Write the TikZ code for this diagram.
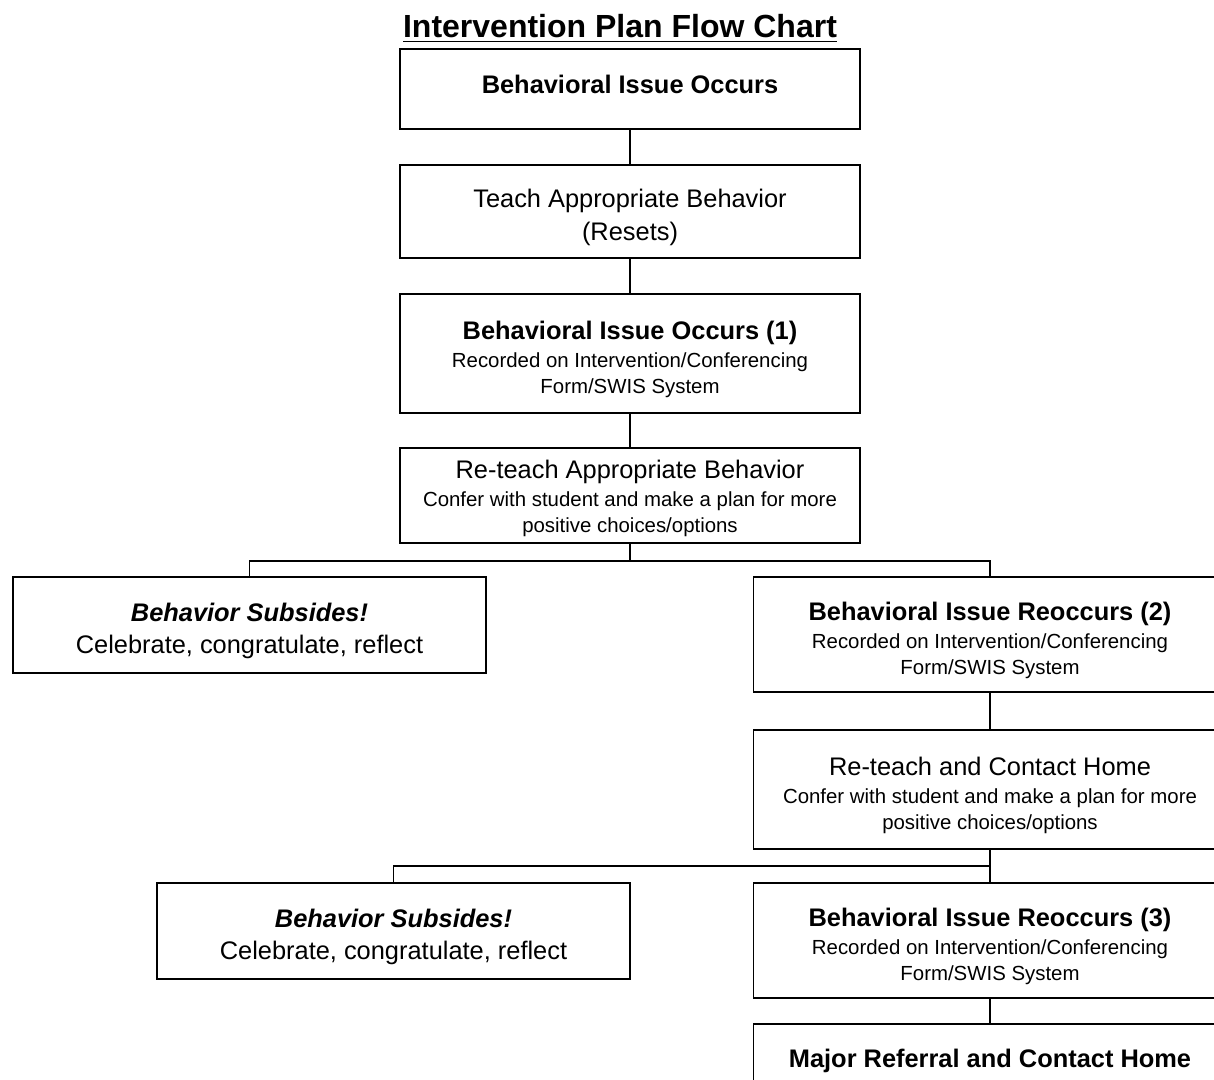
\documentclass[tikz,border=0pt]{standalone}
\usepackage{fontspec}
\setmainfont{Liberation Sans}
\newcommand{\hd}[1]{{\bfseries #1}}
\newcommand{\note}[1]{{\fontsize{10.2}{13}\selectfont #1}}
\newcommand{\firstln}{\rule{0pt}{15.5pt}}
\begin{document}
\begin{tikzpicture}[
  x=0.5pt, y=-0.5pt,
  stepbox/.style={draw=black, line width=0.9pt, rectangle, align=center, inner sep=0pt,
    minimum width=230pt, font=\fontsize{12.7}{14}\selectfont},
  sidebox/.style={stepbox, minimum width=236.5pt},
  edge/.style={line width=0.9pt, draw=black}
]
  \useasboundingbox (0,0) rectangle (1214,1080);

  % Titulo
  \node[anchor=base, font=\fontsize{16}{19}\selectfont\bfseries] (title) at (620,38)
    {\underline{Intervention Plan Flow Chart}};

  % Columna central
  \node[stepbox, anchor=north, text height=22.5pt, text depth=17.5pt] (occ) at (630,48)
    {\hd{Behavioral Issue Occurs}};
  \node[stepbox, minimum height=46.5pt] (teach) at (630,211.5)
    {\firstln Teach Appropriate Behavior\\[2.5pt] (Resets)};
  \node[stepbox, minimum height=59.5pt] (occ1) at (630,353.5)
    {\firstln\hd{Behavioral Issue Occurs (1)}\\ \note{Recorded on Intervention/Conferencing}\\[-1pt] \note{Form/SWIS System}};
  \node[stepbox, minimum height=47.5pt] (reteach) at (630,495.5)
    {\rule{0pt}{12pt}Re-teach Appropriate Behavior\\ \note{Confer with student and make a plan for more}\\[-1pt] \note{positive choices/options}};

  % Primera bifurcacion
  \node[sidebox, minimum height=48pt] (sub1) at (249.5,625)
    {\firstln\hd{\itshape Behavior Subsides!}\\[2pt] Celebrate, congratulate, reflect};
  \node[sidebox, minimum height=57.5pt] (reoc2) at (990,634.5)
    {\firstln\hd{Behavioral Issue Reoccurs (2)}\\ \note{Recorded on Intervention/Conferencing}\\[-1pt] \note{Form/SWIS System}};
  \node[sidebox, minimum height=59.5pt] (home) at (990,789.5)
    {\firstln Re-teach and Contact Home\\ \note{Confer with student and make a plan for more}\\[-1pt] \note{positive choices/options}};

  % Segunda bifurcacion
  \node[sidebox, minimum height=48pt] (sub2) at (393.5,931)
    {\firstln\hd{\itshape Behavior Subsides!}\\[2pt] Celebrate, congratulate, reflect};
  \node[sidebox, minimum height=57.5pt] (reoc3) at (990,940.5)
    {\firstln\hd{Behavioral Issue Reoccurs (3)}\\ \note{Recorded on Intervention/Conferencing}\\[-1pt] \note{Form/SWIS System}};
  \node[sidebox, anchor=north, text height=22pt, text depth=35.5pt] (major) at (990,1023)
    {\hd{Major Referral and Contact Home}};

  % Conectores
  \foreach \a/\b in {occ/teach, teach/occ1, occ1/reteach, reoc2/home, reoc3/major}
    \draw[edge] (\a.south) -- (\b.north);

  \coordinate (split1) at (630,561);
  \coordinate (split2) at (990,866);
  \draw[edge] (reteach.south) -- (split1);
  \draw[edge] (sub1.north) |- (split1) -| (reoc2.north);
  \draw[edge] (home.south) -- (split2);
  \draw[edge] (sub2.north) |- (split2) -- (reoc3.north);
\end{tikzpicture}
\end{document}
